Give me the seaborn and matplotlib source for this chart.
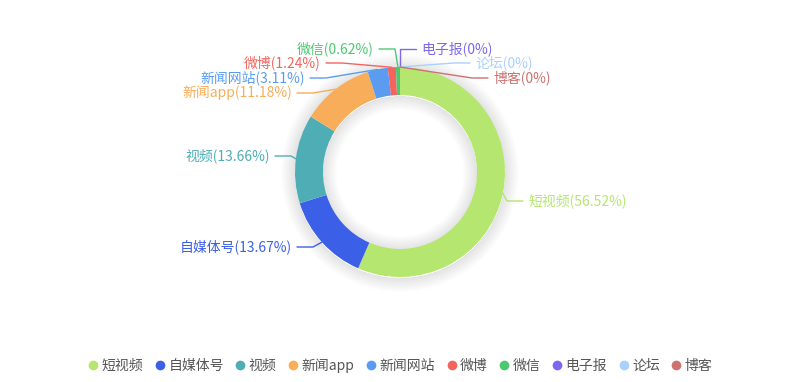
import matplotlib
matplotlib.use("Agg")
import matplotlib.pyplot as plt
from matplotlib.patches import Wedge
from matplotlib.lines import Line2D
import seaborn as sns
import numpy as np

# data
names = ["短视频", "自媒体号", "视频", "新闻app", "新闻网站", "微博", "微信", "电子报", "论坛", "博客"]
shares = [56.52, 13.67, 13.66, 11.18, 3.11, 1.24, 0.62, 0, 0, 0]
colors = ["#b5e66f", "#3c5fe8", "#4fadb5", "#f8ad5b", "#5b9cf0",
          "#f4645e", "#4cc970", "#7b68ee", "#a8d1ff", "#cd7270"]

# label layout (pixel coords from top-left): text anchor x, y, side
label_pos = [(528, 201, 1), (292, 247, -1), (270, 156, -1), (292, 93, -1), (305, 78, -1),
             (321, 63, -1), (374, 49, -1), (421, 49, 1), (475, 63, 1), (493, 78, 1)]

sns.set_theme(style="white")
plt.rcParams["font.family"] = ["Noto Sans CJK SC", "DejaVu Sans"]

W, H = 799, 382
fig = plt.figure(figsize=(W / 100, H / 100), dpi=100)
ax = fig.add_axes([0, 0, 1, 1])

cx, cy = 400, H - 172
r_out, r_in = 105, 77

# soft shadow around the ring
for i in range(14):
    a = 0.008
    ax.add_patch(Wedge((cx, cy - 1), r_out + i + 1, 0, 360, width=i + 1,
                       facecolor="black", alpha=a, edgecolor="none", zorder=1))
    ax.add_patch(Wedge((cx, cy - 1), r_in, 0, 360, width=i + 1,
                       facecolor="black", alpha=a, edgecolor="none", zorder=1))

wedges, _ = ax.pie(shares, colors=sns.color_palette(colors), startangle=90,
                   counterclock=False, radius=r_out, center=(cx, cy),
                   wedgeprops=dict(width=r_out - r_in, edgecolor="none", zorder=2))

gap, len2 = 5, 16
for w, name, val, col, (tx, ty, side) in zip(wedges, names, shares, colors, label_pos):
    mid = np.deg2rad((w.theta1 + w.theta2) / 2)
    ax_x = cx + r_out * np.cos(mid)
    ax_y = cy + r_out * np.sin(mid)
    ty_d = H - ty
    ex = tx - side * (gap + len2)
    hx = tx - side * gap
    ax.plot([ax_x, ex, hx], [ax_y, ty_d, ty_d], color=col, lw=1, zorder=3)
    ax.text(tx, ty_d, f"{name}({val:g}%)", color=col, fontsize=10,
            ha="left" if side > 0 else "right", va="center", zorder=4)

ax.set_xlim(0, W)
ax.set_ylim(0, H)
ax.set_aspect("auto")
ax.axis("off")

handles = [Line2D([], [], marker="o", linestyle="none", markersize=7,
                  markerfacecolor=c, markeredgecolor="none") for c in colors]
fig.legend(handles, names, loc="center", bbox_to_anchor=(0.5, 1 - 366 / H), ncol=len(names),
           frameon=False, fontsize=10, handletextpad=0.1, columnspacing=0.7,
           handlelength=1.0, labelcolor="#555555")

fig.savefig("out.png", dpi=100)
